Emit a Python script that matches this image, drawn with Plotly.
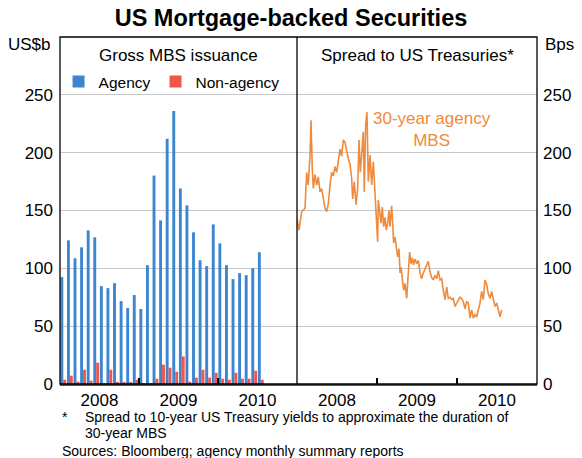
import pandas as pd
import plotly.graph_objects as go

# monthly gross MBS issuance, US$b (Jan 2008 - Jul 2010)
months = pd.date_range("2008-01-01", periods=31, freq="MS")
agency = [92.4, 124.2, 108.7, 118.2, 132.8, 126.8, 84.6, 82.9, 87.2, 71.7, 65.7, 76.9,
          64.8, 102.7, 180.2, 141.4, 212.0, 236.1, 169.0, 154.4, 131.1, 107.0, 101.9, 138.0,
          121.6, 102.7, 90.7, 95.8, 94.1, 100.1, 113.9]
non_agency = [3.7, 7.2, 2.0, 12.3, 2.9, 18.4, 0.5, 12.3, 1.2, 1.2, 1.2, 3.7,
              0.3, 0.3, 4.6, 16.7, 14.1, 10.6, 23.8, 2.0, 5.5, 12.3, 5.5, 9.7,
              4.6, 3.7, 9.7, 4.6, 4.6, 11.5, 3.7]

# spread of 30-year agency MBS to 10-year Treasuries, bps (time in decimal years)
spread_t = [2008.000, 2008.025, 2008.058, 2008.100, 2008.121, 2008.141, 2008.163, 2008.175,
            2008.191, 2008.204, 2008.225, 2008.246, 2008.266, 2008.288, 2008.308, 2008.329,
            2008.350, 2008.371, 2008.391, 2008.413, 2008.433, 2008.454, 2008.475, 2008.496,
            2008.516, 2008.538, 2008.558, 2008.579, 2008.600, 2008.621, 2008.641, 2008.663,
            2008.683, 2008.696, 2008.716, 2008.738, 2008.758, 2008.775, 2008.791, 2008.808,
            2008.829, 2008.841, 2008.858, 2008.875, 2008.891, 2008.913, 2008.933, 2008.954,
            2008.975, 2008.996, 2009.008, 2009.016, 2009.033, 2009.050, 2009.066, 2009.083,
            2009.100, 2009.116, 2009.133, 2009.150, 2009.163, 2009.183, 2009.196, 2009.208,
            2009.225, 2009.241, 2009.258, 2009.275, 2009.288, 2009.300, 2009.316, 2009.333,
            2009.350, 2009.371, 2009.391, 2009.408, 2009.425, 2009.441, 2009.458, 2009.475,
            2009.496, 2009.516, 2009.538, 2009.558, 2009.579, 2009.600, 2009.621, 2009.641,
            2009.663, 2009.683, 2009.704, 2009.725, 2009.746, 2009.766, 2009.788, 2009.808,
            2009.829, 2009.850, 2009.871, 2009.891, 2009.913, 2009.933, 2009.954, 2009.975,
            2009.996, 2010.016, 2010.038, 2010.058, 2010.079, 2010.100, 2010.121, 2010.141,
            2010.163, 2010.183, 2010.204, 2010.225, 2010.246, 2010.266, 2010.288, 2010.308,
            2010.329, 2010.350, 2010.371, 2010.391, 2010.413, 2010.433, 2010.454, 2010.475,
            2010.496, 2010.516, 2010.538, 2010.558]
spread_bps = [143, 133, 149, 152, 183, 172, 198, 228,
              186, 169, 181, 172, 179, 166, 169, 160,
              152, 149, 156, 172, 183, 180, 188, 183,
              192, 203, 197, 211, 209, 200, 195, 190,
              178, 160, 175, 155, 169, 211, 183, 198,
              218, 166, 224, 235, 175, 198, 172, 192,
              166, 149, 123, 159, 147, 139, 153, 136,
              144, 133, 139, 150, 136, 154, 139, 122,
              127, 117, 110, 117, 96, 101, 90, 81,
              87, 74, 96, 114, 104, 109, 103, 108,
              104, 107, 96, 91, 96, 100, 103, 106,
              97, 92, 90, 94, 91, 98, 90, 91,
              81, 73, 84, 74, 75, 73, 74, 67,
              70, 73, 75, 74, 71, 65, 71, 70,
              57, 64, 57, 60, 58, 64, 70, 80,
              73, 90, 86, 78, 74, 80, 73, 67,
              70, 63, 58, 64]

year_labels = ["2008", "2009", "2010"]
y_ticks = [0, 50, 100, 150, 200, 250]

BLUE = "#3b86cf"
RED = "#f2564b"
ORANGE = "#f08a3c"
FONT = "Liberation Sans, Arial, sans-serif"

bar_x = [m.year + (m.month - 0.5) / 12 for m in months]
split = 237 / 477

fig = go.Figure()
fig.add_trace(go.Bar(x=bar_x, y=agency, name="Agency", marker_color=BLUE,
                     marker_line_width=0, xaxis="x", yaxis="y"))
fig.add_trace(go.Bar(x=bar_x, y=non_agency, name="Non-agency", marker_color=RED,
                     marker_line_width=0, xaxis="x", yaxis="y"))
fig.add_trace(go.Scatter(x=spread_t, y=spread_bps, mode="lines", showlegend=False,
                         line=dict(color=ORANGE, width=1.6), xaxis="x2", yaxis="y2"))

year_mid = [int(y) + 0.5 for y in year_labels]
xaxis_common = dict(
    range=[2008, 2011], tickvals=year_mid, ticktext=year_labels, ticks="",
    showgrid=False, zeroline=False, showline=True, linecolor="#555", linewidth=2,
    tickfont=dict(size=17, color="black"), ticklabelstandoff=0, automargin=False,
    minor=dict(tickmode="array", tickvals=[2009, 2010], ticks="inside",
               ticklen=6, tickcolor="black", tickwidth=1.5, showgrid=False),
)
yaxis_common = dict(
    range=[0, 300], tickvals=y_ticks, ticks="", showgrid=True, gridcolor="#c8c8c8",
    gridwidth=1, zeroline=False, tickfont=dict(size=17, color="black"), automargin=False,
)

fig.update_layout(
    width=582, height=458,
    margin=dict(l=60, r=45, t=37, b=74),
    paper_bgcolor="white", plot_bgcolor="white",
    font=dict(family=FONT, color="black"),
    barmode="group", bargap=0.12, bargroupgap=0,
    title=dict(text="<b>US Mortgage-backed Securities</b>", x=0.5, xref="container",
               y=1 - 18 / 458, yanchor="middle", font=dict(size=23.5)),
    xaxis=dict(domain=[0, split], anchor="y", **xaxis_common),
    xaxis2=dict(domain=[split, 1], anchor="y2", **xaxis_common),
    yaxis=dict(anchor="x", side="left", ticklabelstandoff=6, **yaxis_common),
    yaxis2=dict(anchor="x2", side="right", ticklabelstandoff=5, **yaxis_common),
    legend=dict(orientation="h", x=-0.003, y=(384 - 82) / 347, xanchor="left",
                yanchor="middle", font=dict(size=15.5), bgcolor="rgba(0,0,0,0)",
                itemclick=False),
    showlegend=True,
)

# frame and panel divider
fig.add_shape(type="rect", xref="paper", yref="paper", x0=0, x1=1, y0=0, y1=1,
              line=dict(color="black", width=1.3), layer="above")
fig.add_shape(type="line", xref="paper", yref="paper", x0=split, x1=split, y0=0, y1=1,
              line=dict(color="black", width=1.3), layer="above")

labels = [
    ("Gross MBS issuance", "x domain", "paper", 0.5, (384 - 55) / 347, "center", "black"),
    ("Spread to US Treasuries*", "x2 domain", "paper", 0.5, (384 - 55) / 347, "center", "black"),
    ("30-year agency<br>MBS", "x2", "y2", 2009.69, 220, "center", ORANGE),
    ("US$b", "paper", "paper", -7 / 477, (384 - 45) / 347, "right", "black"),
    ("Bps", "paper", "paper", 1 + 6 / 477, (384 - 45) / 347, "left", "black"),
]
for txt, xr, yr, x, y, xa, col in labels:
    fig.add_annotation(text=txt, xref=xr, yref=yr, x=x, y=y, xanchor=xa, yanchor="middle",
                       showarrow=False, font=dict(size=17, color=col))

notes = [
    (0, 417, "*"),
    (23, 417, "Spread to 10-year US Treasury yields to approximate the duration of"),
    (23, 433, "30-year MBS"),
    (0, 451, "Sources: Bloomberg; agency monthly summary reports"),
]
for dx, ypx, txt in notes:
    fig.add_annotation(text=txt, xref="paper", yref="paper", x=dx / 477, y=(384 - ypx) / 347,
                       xanchor="left", yanchor="middle", showarrow=False,
                       font=dict(size=14))

fig.write_html("out.html", config={"displayModeBar": False},
               post_script="document.body.style.margin='0';")
